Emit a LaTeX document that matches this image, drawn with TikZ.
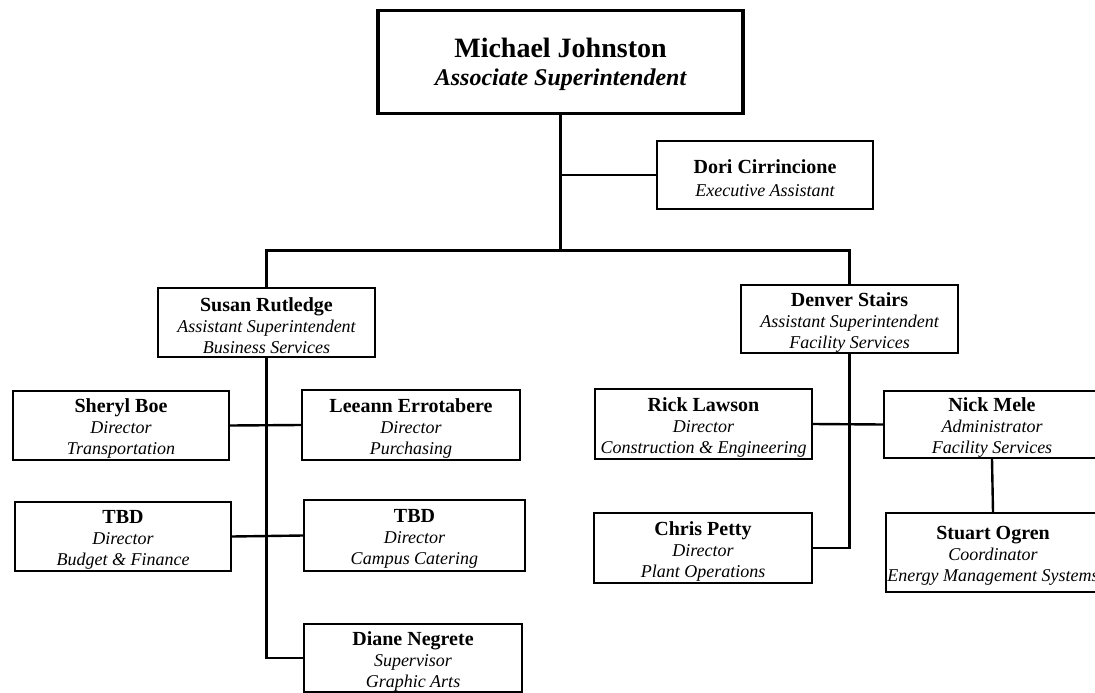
\documentclass[tikz,border=0pt]{standalone}
\usepackage{fontspec}
\setmainfont{Liberation Serif}
\newcommand\subfont{\fontsize{18}{21}\selectfont\itshape}
% name line, with a strut that keeps each box's text a little low
\newcommand\nm[1]{{\fontsize{20}{21}\selectfont\upshape\bfseries\rule{0pt}{20.5pt}#1}}
\tikzset{
  box/.style={draw, line width=2pt, fill=white, inner sep=0pt,
    minimum width=217pt, minimum height=69pt, align=center, font=\subfont},
  link/.style={line width=2.4pt}
}
\begin{document}
\begin{tikzpicture}[x=1pt,y=-1pt]
\useasboundingbox (0,0) rectangle (1095,693);
\fill[white] (0,0) rectangle (1095,693);
\clip (0,0) rectangle (1095,693);

% Top of the organisation
\node[draw, line width=3.6pt, inner sep=0pt, minimum width=365pt, minimum height=103pt,
  align=center, font=\fontsize{24}{28}\selectfont]
  (mj) at (560.5,62)
  {{\fontsize{28}{28}\selectfont\bfseries\rule{0pt}{25pt}Michael Johnston}\\
   {\bfseries\itshape Associate Superintendent}};
\node[box, minimum width=216pt, minimum height=68pt] (dori) at (765,175)
  {\nm{Dori Cirrincione}\\[2pt]Executive Assistant};

% Assistant superintendents
\node[box] (susan) at (266.5,322.5)
  {\nm{Susan Rutledge}\\Assistant Superintendent\\Business Services};
\node[box, minimum height=68pt] (denver) at (849.5,319)
  {\nm{Denver Stairs}\\Assistant Superintendent\\Facility Services};

% Business services
\node[box, minimum width=216pt] (sheryl) at (121,425.5)
  {\nm{Sheryl Boe}\\Director\\Transportation};
\node[box, minimum width=218pt, minimum height=70pt] (leeann) at (411,425)
  {\nm{Leeann Errotabere}\\Director\\Purchasing};
\node[box, minimum width=216pt] (tbdone) at (123,536.5)
  {\nm{TBD}\\Director\\Budget \& Finance};
\node[box, minimum width=221pt, minimum height=71pt] (tbdtwo) at (414.5,535.5)
  {\nm{TBD}\\Director\\Campus Catering};
\node[box, minimum width=218pt, minimum height=68pt] (diane) at (413,658)
  {\nm{Diane Negrete}\\Supervisor\\Graphic Arts};

% Facility services
\node[box, minimum height=70pt] (rick) at (703.5,424)
  {\nm{Rick Lawson}\\Director\\Construction \& Engineering};
\node[box, minimum width=216pt, minimum height=67pt] (nick) at (992,424.5)
  {\nm{Nick Mele}\\Administrator\\Facility Services};
\node[box, minimum width=218pt, minimum height=70pt] (chris) at (703,548)
  {\nm{Chris Petty}\\Director\\Plant Operations};
\node[box, minimum width=214pt, minimum height=79pt] (stuart) at (993,552.5)
  {\nm{Stuart Ogren}\\Coordinator\\Energy Management Systems};

% Reporting lines
\draw[link] (mj.south) -- ++(0,135) coordinate (bus);
\draw[link] (mj.south |- dori.west) -- (dori.west);
\draw[link] (susan.north) |- (bus) -| (denver.north);
\draw[link] (susan.south) |- (diane.west);
\draw[link] (sheryl.east) -- (leeann.west);
\draw[link] (tbdone.east) -- (tbdtwo.west);
\draw[link] (denver.south) |- (chris.east);
\draw[link] (rick.east) -- (nick.west);
\draw[link] (nick.south) -- (stuart.north);
\end{tikzpicture}
\end{document}
